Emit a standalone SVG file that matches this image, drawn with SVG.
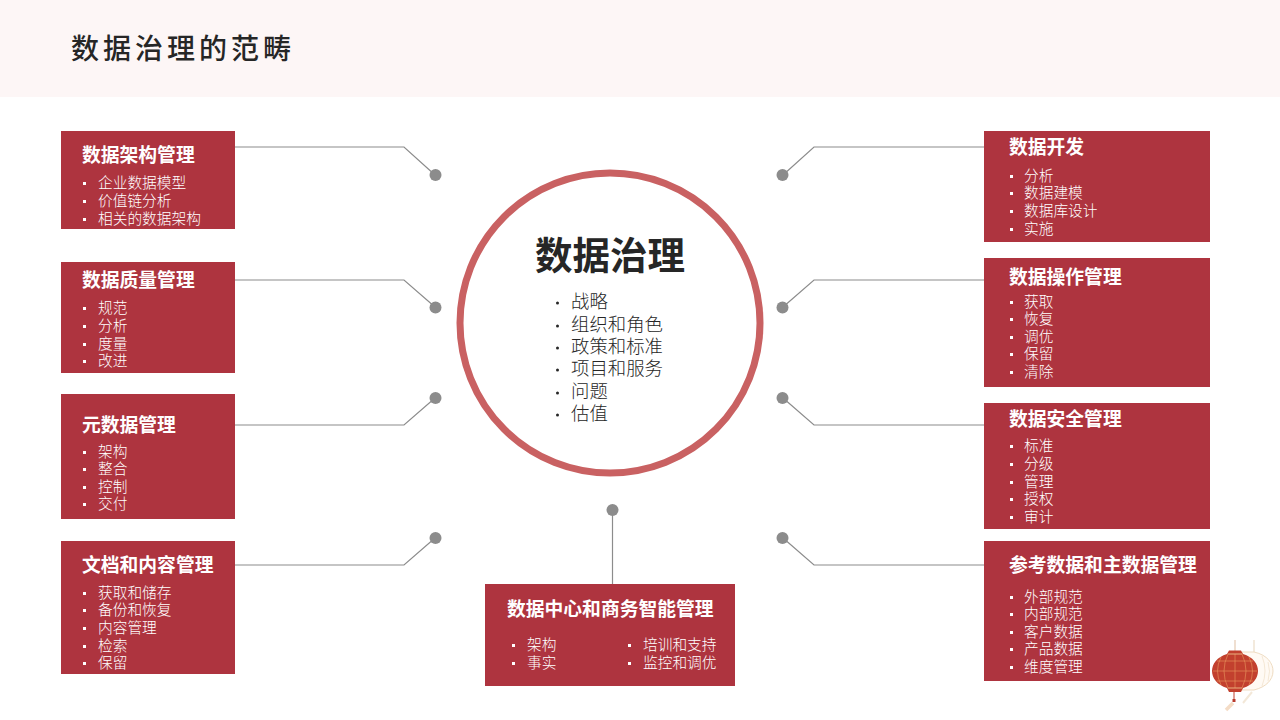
<svg xmlns="http://www.w3.org/2000/svg" width="1280" height="720" viewBox="0 0 1280 720">
<style>
text{font-family:"Noto Sans CJK SC","Liberation Sans",sans-serif}
.box{fill:#ae343f}
.h{fill:#fff;font-size:18.800px;font-weight:700}
.t{fill:#fff;font-size:14.700px;font-weight:300}
.b{fill:#fff}
.l{fill:none;stroke:#8c8c8c;stroke-width:1.200}
.d{fill:#8c8c8c}
.c{fill:#262626;font-size:18.400px;font-weight:300}
.bc{fill:#262626}
</style>
<rect width="1280" height="97" fill="#fdf6f6"/>
<text x="71" y="58.500" font-size="28" letter-spacing="4" fill="#262626" font-weight="500">数据治理的范畴</text>
<g id="connectors">
<path class="l" d="M235 147H404L435 175"/><circle class="d" cx="435.500" cy="175" r="6"/>
<path class="l" d="M235 280H404L435 307"/><circle class="d" cx="435.500" cy="307.500" r="6"/>
<path class="l" d="M235 425H404L435 398"/><circle class="d" cx="435.500" cy="398" r="6"/>
<path class="l" d="M235 565H404L435 538"/><circle class="d" cx="435.500" cy="538" r="6"/>
<path class="l" d="M984 147H814L783 175"/><circle class="d" cx="782.500" cy="175" r="6"/>
<path class="l" d="M984 280H814L783 307"/><circle class="d" cx="782.500" cy="307.500" r="6"/>
<path class="l" d="M984 425H814L783 398"/><circle class="d" cx="782.500" cy="398" r="6"/>
<path class="l" d="M984 565H814L783 538"/><circle class="d" cx="782.500" cy="538" r="6"/>
<path class="l" d="M612.500 510V584"/><circle class="d" cx="612.500" cy="510" r="6"/>
</g>
<g id="center">
<circle cx="610" cy="323" r="150" fill="#fff" stroke="#c96162" stroke-width="7"/>
<text x="535" y="269" font-size="37.500" font-weight="700" fill="#262626">数据治理</text>
<circle class="bc" cx="557.500" cy="303" r="1.500"/><text class="c" x="571" y="308">战略</text>
<circle class="bc" cx="557.500" cy="326" r="1.500"/><text class="c" x="571" y="331">组织和角色</text>
<circle class="bc" cx="557.500" cy="348" r="1.500"/><text class="c" x="571" y="353">政策和标准</text>
<circle class="bc" cx="557.500" cy="370" r="1.500"/><text class="c" x="571" y="375">项目和服务</text>
<circle class="bc" cx="557.500" cy="393" r="1.500"/><text class="c" x="571" y="398">问题</text>
<circle class="bc" cx="557.500" cy="415" r="1.500"/><text class="c" x="571" y="420">估值</text>
</g>
<g id="n1"><rect class="box" x="61" y="131" width="174" height="98"/>
<text class="h" x="82" y="161.500">数据架构管理</text>
<rect class="b" x="83" y="182" width="3" height="3"/><text class="t" x="98" y="188">企业数据模型</text>
<rect class="b" x="83" y="200" width="3" height="3"/><text class="t" x="98" y="206">价值链分析</text>
<rect class="b" x="83" y="218" width="3" height="3"/><text class="t" x="98" y="224">相关的数据架构</text></g>
<g id="n2"><rect class="box" x="61" y="262" width="174" height="111"/>
<text class="h" x="82" y="286.500">数据质量管理</text>
<rect class="b" x="83" y="307" width="3" height="3"/><text class="t" x="98" y="313">规范</text>
<rect class="b" x="83" y="325" width="3" height="3"/><text class="t" x="98" y="331">分析</text>
<rect class="b" x="83" y="343" width="3" height="3"/><text class="t" x="98" y="349">度量</text>
<rect class="b" x="83" y="360" width="3" height="3"/><text class="t" x="98" y="366">改进</text></g>
<g id="n3"><rect class="box" x="61" y="394" width="174" height="125"/>
<text class="h" x="82" y="431.500">元数据管理</text>
<rect class="b" x="83" y="451" width="3" height="3"/><text class="t" x="98" y="457">架构</text>
<rect class="b" x="83" y="468" width="3" height="3"/><text class="t" x="98" y="474">整合</text>
<rect class="b" x="83" y="486" width="3" height="3"/><text class="t" x="98" y="492">控制</text>
<rect class="b" x="83" y="503" width="3" height="3"/><text class="t" x="98" y="509">交付</text></g>
<g id="n4"><rect class="box" x="61" y="541" width="174" height="133"/>
<text class="h" x="82" y="571.500">文档和内容管理</text>
<rect class="b" x="83" y="592" width="3" height="3"/><text class="t" x="98" y="598">获取和储存</text>
<rect class="b" x="83" y="609" width="3" height="3"/><text class="t" x="98" y="615">备份和恢复</text>
<rect class="b" x="83" y="627" width="3" height="3"/><text class="t" x="98" y="633">内容管理</text>
<rect class="b" x="83" y="645" width="3" height="3"/><text class="t" x="98" y="651">检索</text>
<rect class="b" x="83" y="662" width="3" height="3"/><text class="t" x="98" y="668">保留</text></g>
<g id="n5"><rect class="box" x="984" y="131" width="226" height="111"/>
<text class="h" x="1009" y="154">数据开发</text>
<rect class="b" x="1010" y="175" width="3" height="3"/><text class="t" x="1024" y="181">分析</text>
<rect class="b" x="1010" y="192" width="3" height="3"/><text class="t" x="1024" y="198">数据建模</text>
<rect class="b" x="1010" y="210" width="3" height="3"/><text class="t" x="1024" y="216">数据库设计</text>
<rect class="b" x="1010" y="228" width="3" height="3"/><text class="t" x="1024" y="234">实施</text></g>
<g id="n6"><rect class="box" x="984" y="258" width="226" height="129"/>
<text class="h" x="1009" y="283.500">数据操作管理</text>
<rect class="b" x="1010" y="301" width="3" height="3"/><text class="t" x="1024" y="307">获取</text>
<rect class="b" x="1010" y="318" width="3" height="3"/><text class="t" x="1024" y="324">恢复</text>
<rect class="b" x="1010" y="336" width="3" height="3"/><text class="t" x="1024" y="342">调优</text>
<rect class="b" x="1010" y="353" width="3" height="3"/><text class="t" x="1024" y="359">保留</text>
<rect class="b" x="1010" y="371" width="3" height="3"/><text class="t" x="1024" y="377">清除</text></g>
<g id="n7"><rect class="box" x="984" y="403" width="226" height="126"/>
<text class="h" x="1009" y="425.500">数据安全管理</text>
<rect class="b" x="1010" y="445" width="3" height="3"/><text class="t" x="1024" y="451">标准</text>
<rect class="b" x="1010" y="463" width="3" height="3"/><text class="t" x="1024" y="469">分级</text>
<rect class="b" x="1010" y="481" width="3" height="3"/><text class="t" x="1024" y="487">管理</text>
<rect class="b" x="1010" y="498" width="3" height="3"/><text class="t" x="1024" y="504">授权</text>
<rect class="b" x="1010" y="516" width="3" height="3"/><text class="t" x="1024" y="522">审计</text></g>
<g id="n8"><rect class="box" x="984" y="541" width="226" height="140"/>
<text class="h" x="1009" y="571.500">参考数据和主数据管理</text>
<rect class="b" x="1010" y="596" width="3" height="3"/><text class="t" x="1024" y="602">外部规范</text>
<rect class="b" x="1010" y="613" width="3" height="3"/><text class="t" x="1024" y="619">内部规范</text>
<rect class="b" x="1010" y="631" width="3" height="3"/><text class="t" x="1024" y="637">客户数据</text>
<rect class="b" x="1010" y="648" width="3" height="3"/><text class="t" x="1024" y="654">产品数据</text>
<rect class="b" x="1010" y="666" width="3" height="3"/><text class="t" x="1024" y="672">维度管理</text></g>
<g id="n9"><rect class="box" x="485" y="584" width="250" height="102"/>
<text class="h" x="507" y="615.500">数据中心和商务智能管理</text>
<rect class="b" x="512" y="644" width="3" height="3"/><text class="t" x="527" y="650">架构</text>
<rect class="b" x="512" y="662" width="3" height="3"/><text class="t" x="527" y="668">事实</text>
<rect class="b" x="628" y="644" width="3" height="3"/><text class="t" x="643" y="650">培训和支持</text>
<rect class="b" x="628" y="662" width="3" height="3"/><text class="t" x="643" y="668">监控和调优</text></g>
<g id="lantern">
<path d="M1254 640V654" stroke="#efe3d2" stroke-width="1.500"/>
<path d="M1254 652C1268 655 1273 664 1273 671C1273 680 1266 687 1254 690L1242 690V652Z" fill="#fffaf4" stroke="#efdcc2"/>
<path d="M1262 656Q1268 671 1262 686M1268 662Q1271 671 1268 681" fill="none" stroke="#f1e2cd" stroke-width=".8"/>
<path d="M1252 692L1243 703" stroke="#f3e8d8" stroke-width="2"/>
<path d="M1235 640V651" stroke="#ead5c2" stroke-width="1.500"/>
<path d="M1229 650.500H1241L1243 654C1253 657 1258 664 1258 671C1258 678 1253 685 1243 688L1241 692H1229L1227 688C1217 685 1212 678 1212 671C1212 664 1217 657 1227 654Z" fill="#c2402e"/>
<path d="M1235 654V688M1228 654Q1220 671 1228 688M1242 654Q1250 671 1242 688M1221 657Q1214 671 1221 685M1249 657Q1256 671 1249 685M1213 671H1257M1217 661H1253M1217 681H1253" fill="none" stroke="#e9985f" stroke-width=".6"/>
<path d="M1228 654H1242M1228 688H1242" stroke="#e9b07e"/>
<path d="M1234 692V700" stroke="#c2402e"/>
<rect x="1232.500" y="699" width="3" height="3" fill="#b83a2c"/>
<path d="M1233 703L1226 710" stroke="#f4dcc6" stroke-width="3.500"/>
</g>
</svg>
